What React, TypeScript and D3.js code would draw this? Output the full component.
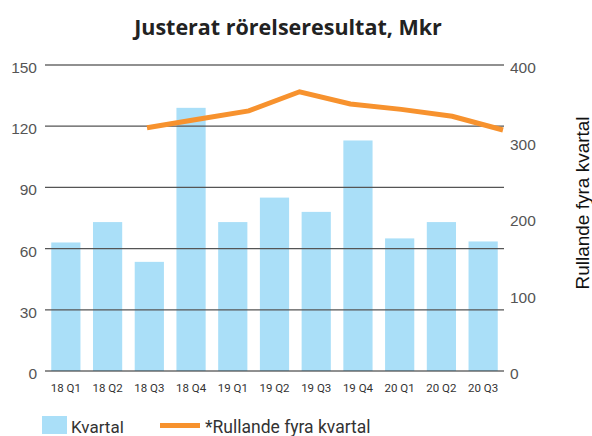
import React, { useEffect, useRef } from "react";
import * as d3 from "d3";

const quarters = ["18 Q1", "18 Q2", "18 Q3", "18 Q4", "19 Q1", "19 Q2", "19 Q3", "19 Q4", "20 Q1", "20 Q2", "20 Q3"];
const kvartal = [63, 73, 53.5, 129, 73, 85, 78, 113, 65, 73, 63.5];
const rullandeQuarters = ["18 Q4", "19 Q1", "19 Q2", "19 Q3", "19 Q4", "20 Q1", "20 Q2", "20 Q3"];
const rullande = [318, 329, 340, 365, 349, 342, 333, 315];
const leftTicks = [0, 30, 60, 90, 120, 150];
const rightTicks = [0, 100, 200, 300, 400];

const W = 592;
const H = 436;

const App = () => {
  const ref = useRef<SVGSVGElement>(null);

  useEffect(() => {
    const svg = d3.select(ref.current);
    svg.selectAll("*").remove();

    const left = 45, right = 504, top = 65, bottom = 371;

    const x = d3.scaleBand().domain(quarters).range([left, right]).paddingInner(0.3).paddingOuter(0.15);
    const y = d3.scaleLinear().domain([0, 150]).range([bottom, top]);
    const y2 = d3.scaleLinear().domain([0, 400]).range([bottom, top]);
    // the rolling line sits on its own horizontal spacing
    const xLine = d3.scalePoint().domain(rullandeQuarters).range([147, 503]);

    // title
    svg.append("text")
      .attr("x", 288)
      .attr("y", 35)
      .attr("text-anchor", "middle")
      .style("font-family", "'Open Sans', sans-serif")
      .style("font-weight", "700")
      .style("font-size", "21.5px")
      .style("fill", "#222")
      .text("Justerat rörelseresultat, Mkr");

    // bars
    svg.selectAll(".bar")
      .data(kvartal)
      .enter()
      .append("rect")
      .attr("class", "bar")
      .attr("x", (d, i) => x(quarters[i]) as number)
      .attr("y", d => y(d))
      .attr("width", x.bandwidth())
      .attr("height", d => bottom - y(d))
      .style("fill", "#aadff8");

    // grid lines over the bars
    svg.selectAll(".grid")
      .data(leftTicks)
      .enter()
      .append("line")
      .attr("x1", left)
      .attr("x2", right)
      .attr("y1", d => y(d))
      .attr("y2", d => y(d))
      .style("stroke", d => (d === 0 || d === 150 ? "#222" : "#555"))
      .style("stroke-width", "1.2px");

    // left tick labels
    svg.selectAll(".ltick")
      .data(leftTicks)
      .enter()
      .append("text")
      .attr("x", 37)
      .attr("y", d => y(d) + 8)
      .attr("text-anchor", "end")
      .style("font-family", "'Liberation Sans', Arial, sans-serif")
      .style("font-size", "15.5px")
      .style("fill", "#555")
      .text(d => d);

    // right tick labels
    svg.selectAll(".rtick")
      .data(rightTicks)
      .enter()
      .append("text")
      .attr("x", 510)
      .attr("y", d => y2(d) + 8)
      .style("font-family", "'Liberation Sans', Arial, sans-serif")
      .style("font-size", "15.5px")
      .style("fill", "#555")
      .text(d => d);

    // x labels
    svg.selectAll(".xlab")
      .data(quarters)
      .enter()
      .append("text")
      .attr("x", d => (x(d) as number) + x.bandwidth() / 2)
      .attr("y", 392)
      .attr("text-anchor", "middle")
      .style("font-family", "Roboto, sans-serif")
      .style("font-size", "11.5px")
      .style("fill", "#333")
      .text(d => d);

    // rolling line
    const line = d3.line<number>()
      .x((d, i) => xLine(rullandeQuarters[i]) as number)
      .y(d => y2(d));

    svg.append("path")
      .datum(rullande)
      .attr("d", line)
      .style("fill", "none")
      .style("stroke", "#f7922e")
      .style("stroke-width", "5px");

    // right axis title
    svg.append("text")
      .attr("transform", "translate(589, 203) rotate(-90)")
      .attr("text-anchor", "middle")
      .style("font-family", "'Liberation Sans', Arial, sans-serif")
      .style("font-size", "19px")
      .style("fill", "#111")
      .text("Rullande fyra kvartal");

    // legend
    svg.append("rect")
      .attr("x", 42)
      .attr("y", 416)
      .attr("width", 25)
      .attr("height", 18)
      .style("fill", "#aadff8");
    svg.append("text")
      .attr("x", 71)
      .attr("y", 433)
      .style("font-family", "Roboto, sans-serif")
      .style("font-size", "17px")
      .style("fill", "#333")
      .text("Kvartal");
    svg.append("line")
      .attr("x1", 160)
      .attr("x2", 200)
      .attr("y1", 425.5)
      .attr("y2", 425.5)
      .style("stroke", "#f7922e")
      .style("stroke-width", "5px");
    svg.append("text")
      .attr("x", 205)
      .attr("y", 433)
      .style("font-family", "Roboto, sans-serif")
      .style("font-size", "17.5px")
      .style("fill", "#333")
      .text("*Rullande fyra kvartal");
  }, []);

  return (
    <svg ref={ref} width={W} height={H} style={{ position: "absolute", left: 0, top: 0, background: "white" }} />
  );
};

export default App;
